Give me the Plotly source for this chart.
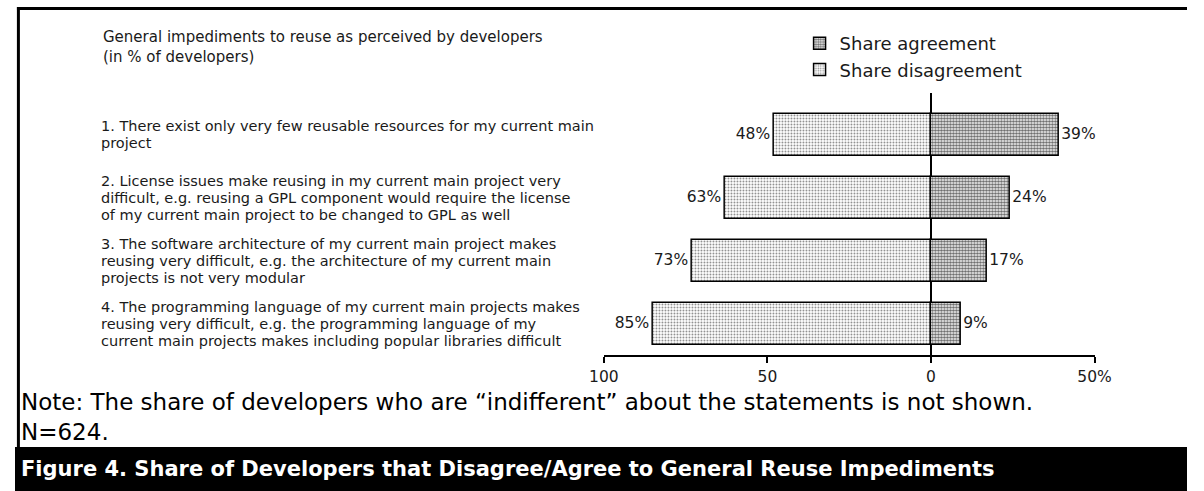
import plotly.graph_objects as go

W, H = 1204, 491

# Survey statements (top to bottom), one list entry per printed line
statements = [
    ["1. There exist only very few reusable resources for my current main",
     "project"],
    ["2. License issues make reusing in my current main project very",
     "difficult, e.g. reusing a GPL component would require the license",
     "of my current main project to be changed to GPL as well"],
    ["3. The software architecture of my current main project makes",
     "reusing very difficult, e.g. the architecture of my current main",
     "projects is not very modular"],
    ["4. The programming language of my current main projects makes",
     "reusing very difficult, e.g. the programming language of my",
     "current main projects makes including popular libraries difficult"],
]
share_agreement = [39, 24, 17, 9]
share_disagreement = [48, 63, 73, 85]

tick_vals = [-100, -50, 0, 50]
tick_text = ["100", "50", "0", "50%"]

positions = list(range(1, len(statements) + 1))

CHART_FONT = "DejaVu Sans"
TXT = "#1a1a1a"


def px_x(p):
    return p / W


def px_y(p):
    return 1 - p / H


fig = go.Figure()

fig.add_trace(go.Bar(
    name="Share agreement",
    y=positions,
    x=share_agreement,
    orientation="h",
    width=0.667,
    text=[f"{v}%" for v in share_agreement],
    textposition="outside",
    textfont=dict(family=CHART_FONT, size=15.5, color=TXT),
    cliponaxis=False,
    marker=dict(
        color="white",
        line=dict(color="black", width=1.5),
        pattern=dict(shape=".", fgcolor="#6e6e6e", bgcolor="white",
                     size=3, solidity=0.6, fillmode="replace"),
    ),
))

fig.add_trace(go.Bar(
    name="Share disagreement",
    y=positions,
    x=[-v for v in share_disagreement],
    orientation="h",
    width=0.667,
    text=[f"{v}%" for v in share_disagreement],
    textposition="outside",
    textfont=dict(family=CHART_FONT, size=15.5, color=TXT),
    cliponaxis=False,
    marker=dict(
        color="white",
        line=dict(color="black", width=1.5),
        pattern=dict(shape=".", fgcolor="#8c8c8c", bgcolor="white",
                     size=3, solidity=0.3, fillmode="replace"),
    ),
))

annotations = []

# Statement labels: each line placed separately, block centred on its bar
LINE_GAP = 17
for pos, lines in zip(positions, statements):
    n = len(lines)
    for k, line in enumerate(lines):
        annotations.append(dict(
            x=px_x(86), xref="paper", xanchor="left",
            y=pos, yref="y", yanchor="middle",
            yshift=-(k - (n - 1) / 2) * LINE_GAP,
            text=line, align="left", showarrow=False,
            font=dict(family=CHART_FONT, size=14.5, color=TXT),
        ))

# Chart heading
annotations.append(dict(
    x=px_x(88), xref="paper", xanchor="left",
    y=px_y(26), yref="paper", yanchor="top",
    text="General impediments to reuse as perceived by developers<br>(in % of developers)",
    align="left", showarrow=False,
    font=dict(family=CHART_FONT, size=15, color=TXT),
))

# Footnote
annotations.append(dict(
    x=px_x(4), xref="paper", xanchor="left",
    y=px_y(417), yref="paper", yanchor="middle",
    text="Note: The share of developers who are \u201cindifferent\u201d about the statements is not shown.<br>N=624.",
    align="left", showarrow=False,
    font=dict(family="DejaVu Sans", size=23, color="black"),
))

# Figure caption in the black band
annotations.append(dict(
    x=px_x(4), xref="paper", xanchor="left",
    y=px_y(469), yref="paper", yanchor="middle",
    text="<b>Figure 4. Share of Developers that Disagree/Agree to General Reuse Impediments</b>",
    align="left", showarrow=False,
    font=dict(family="DejaVu Sans", size=21, color="white"),
))

shapes = [
    # black caption band
    dict(type="rect", xref="paper", yref="paper",
         x0=0, x1=1, y0=0, y1=px_y(447),
         fillcolor="black", line=dict(width=0), layer="below"),
    # frame: top and left rules
    dict(type="line", xref="paper", yref="paper",
         x0=px_x(2), x1=1, y0=px_y(8.5), y1=px_y(8.5),
         line=dict(color="black", width=3)),
    dict(type="line", xref="paper", yref="paper",
         x0=px_x(3.5), x1=px_x(3.5), y0=px_y(7), y1=px_y(447),
         line=dict(color="black", width=3)),
]

fig.update_layout(
    width=W, height=H,
    margin=dict(l=0, r=0, t=0, b=0),
    paper_bgcolor="white",
    plot_bgcolor="white",
    barmode="relative",
    bargap=0,
    font=dict(family=CHART_FONT, color=TXT),
    xaxis=dict(
        domain=[px_x(605), px_x(1109)],
        range=[-100, 50],
        tickvals=tick_vals,
        ticktext=tick_text,
        tickfont=dict(family=CHART_FONT, size=15.5, color=TXT),
        ticks="outside", ticklen=6, tickwidth=2, tickcolor="black",
        showline=True, linecolor="black", linewidth=2,
        showgrid=False,
        zeroline=True, zerolinecolor="black", zerolinewidth=2,
        fixedrange=True,
    ),
    yaxis=dict(
        domain=[px_y(355), px_y(93)],
        range=[4.5, 0.333],
        visible=False,
        showgrid=False,
        zeroline=False,
        fixedrange=True,
    ),
    legend=dict(
        x=px_x(806), y=px_y(25), xanchor="left", yanchor="top",
        font=dict(family=CHART_FONT, size=18, color=TXT),
        bgcolor="rgba(0,0,0,0)",
        traceorder="normal",
        itemwidth=30,
        tracegroupgap=0,
    ),
    annotations=annotations,
    shapes=shapes,
)

fig.write_html("out.html")
